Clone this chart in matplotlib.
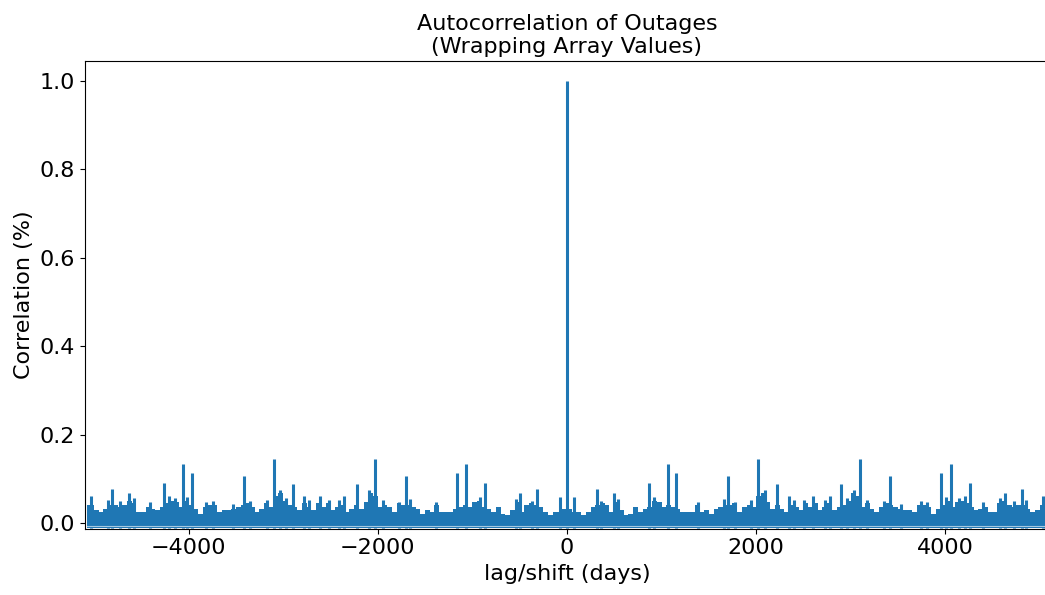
import matplotlib.pyplot as plt
import numpy as np

# upper edge of the dense noise band, one value per 50-day lag bin (0 .. 5100)
bin_width = 50
band_top = [
    0.031, 0.024, 0.024, 0.018, 0.024, 0.037, 0.040, 0.045, 0.040, 0.024,
    0.048, 0.029, 0.018, 0.020, 0.037, 0.024, 0.031, 0.037, 0.050, 0.048,
    0.037, 0.040, 0.037, 0.031, 0.024, 0.024, 0.024, 0.040, 0.024, 0.029,
    0.020, 0.031, 0.037, 0.040, 0.040, 0.045, 0.024, 0.037, 0.040, 0.037,
    0.060, 0.068, 0.048, 0.031, 0.040, 0.031, 0.024, 0.040, 0.037, 0.029,
    0.045, 0.037, 0.045, 0.029, 0.037, 0.045, 0.029, 0.037, 0.040, 0.050,
    0.068, 0.060, 0.037, 0.045, 0.031, 0.024, 0.037, 0.045, 0.040, 0.037,
    0.031, 0.029, 0.029, 0.024, 0.040, 0.040, 0.037, 0.020, 0.031, 0.040,
    0.050, 0.037, 0.048, 0.050, 0.045, 0.037, 0.029, 0.031, 0.037, 0.024,
    0.024, 0.045, 0.050, 0.040, 0.037, 0.040, 0.040, 0.031, 0.024, 0.029,
    0.040, 0.040,
]
band_low = -0.012

# isolated peaks (positive lags, the correlation is symmetric in lag)
peak_lags = [0, 77, 320, 365, 495, 540, 868, 918, 1069, 1157,
             1385, 1659, 1705, 1772, 1948, 2025, 2089, 2222, 2352, 2405,
             2510, 2605, 2728, 2780, 2896, 2966, 3030, 3101, 3170, 3354,
             3418, 3530, 3742, 3811, 3959, 4012, 4058, 4146, 4206, 4258,
             4402, 4578, 4628, 4726, 4813, 4849, 5035]
peak_vals = [1.0, 0.059, 0.077, 0.050, 0.068, 0.055, 0.091, 0.059, 0.133, 0.114,
             0.048, 0.055, 0.106, 0.048, 0.052, 0.145, 0.075, 0.088, 0.061, 0.053,
             0.053, 0.060, 0.052, 0.061, 0.088, 0.056, 0.075, 0.145, 0.053, 0.049,
             0.107, 0.044, 0.050, 0.047, 0.112, 0.058, 0.133, 0.056, 0.061, 0.091,
             0.047, 0.056, 0.067, 0.050, 0.076, 0.053, 0.060]

max_lag = 5098

# mirror to negative lags
centers = np.arange(len(band_top)) * bin_width + bin_width / 2
x_band = np.concatenate([-centers[::-1], centers])
y_band = np.concatenate([band_top[::-1], band_top])
x_peak = np.concatenate([-np.array(peak_lags[1:]), peak_lags])
y_peak = np.concatenate([peak_vals[1:], peak_vals])

color = '#1f77b4'
fig = plt.figure(figsize=(10.45, 5.95), dpi=100)
ax = fig.add_axes([0.081, 0.1114, 0.923, 0.786])

ax.fill_between(x_band, band_low, y_band, step='mid', color=color, lw=0)
ax.vlines(x_peak, band_low, y_peak, color=color, lw=2.2)
ax.axhline(-0.007, color='white', lw=0.8, alpha=0.6)

ax.set_xlim(-max_lag, max_lag)
ax.set_ylim(-0.013, 1.045)
ax.set_xticks([-4000, -2000, 0, 2000, 4000])
ax.set_yticks([0.0, 0.2, 0.4, 0.6, 0.8, 1.0])
ax.tick_params(labelsize=16)
ax.set_xlabel("lag/shift (days)", fontsize=16)
ax.set_ylabel("Correlation (%)", fontsize=16)
ax.set_title("Autocorrelation of Outages\n(Wrapping Array Values)", fontsize=16)

plt.savefig("out.png", dpi=100)
